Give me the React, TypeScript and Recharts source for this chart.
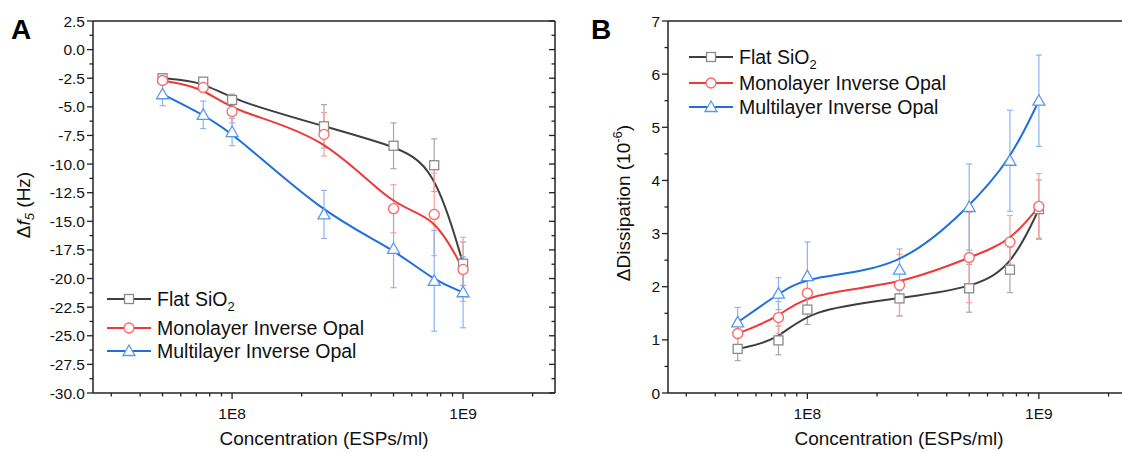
import React from "react";
import { ComposedChart, Line, XAxis, YAxis, ErrorBar, ReferenceLine } from "recharts";

// concentration (ESPs/ml), shared by both panels
const CONC = [5e7, 7.5e7, 1e8, 2.5e8, 5e8, 7.5e8, 1e9];

// panel A: frequency shift (Hz)
const FLAT_DF = [-2.5, -2.8, -4.4, -6.7, -8.4, -10.1, -18.7];
const FLAT_DF_ERR = [0.25, 0.3, 0.5, 1.9, 2.0, 2.3, 1.9];
const MONO_DF = [-2.7, -3.3, -5.4, -7.4, -13.9, -14.4, -19.2];
const MONO_DF_ERR = [0.3, 0.4, 1.0, 1.9, 2.1, 3.6, 2.8];
const MULTI_DF = [-3.9, -5.7, -7.2, -14.4, -17.4, -20.2, -21.2];
const MULTI_DF_ERR = [1.0, 1.2, 1.2, 2.1, 3.4, 4.4, 3.1];

// panel B: dissipation (1e-6)
const FLAT_DD = [0.83, 0.99, 1.57, 1.78, 1.97, 2.32, 3.46];
const FLAT_DD_ERR = [0.22, 0.27, 0.28, 0.33, 0.45, 0.43, 0.55];
const MONO_DD = [1.12, 1.42, 1.88, 2.03, 2.55, 2.84, 3.51];
const MONO_DD_ERR = [0.25, 0.3, 0.35, 0.58, 0.85, 0.5, 0.62];
const MULTI_DD = [1.33, 1.87, 2.2, 2.32, 3.5, 4.37, 5.5];
const MULTI_DD_ERR = [0.28, 0.3, 0.64, 0.39, 0.81, 0.95, 0.86];

const X_DOMAIN = [2.5e7, 2.5e9];
const X_TICKS = [3e7, 4e7, 5e7, 6e7, 7e7, 8e7, 9e7, 1e8, 2e8, 3e8, 4e8, 5e8, 6e8, 7e8, 8e8, 9e8, 1e9, 2e9];
const X_MAJOR = [1e8, 1e9];
const X_LABELS = ["1E8", "1E9"];

const A_Y_MAJOR = [2.5, 0, -2.5, -5, -7.5, -10, -12.5, -15, -17.5, -20, -22.5, -25, -27.5, -30];
const B_Y_MAJOR = [0, 1, 2, 3, 4, 5, 6, 7];

const FONT = "Arial, 'Liberation Sans', sans-serif";
const AXIS = "#222";

const GRAY = { line: "#3f3f3f", mark: "#8a8a8a", err: "#a8a8a8" };
const RED = { line: "#ef3838", mark: "#ff6464", err: "#ff9d9d" };
const BLUE = { line: "#1f6fdc", mark: "#5a98ee", err: "#8ab6f2" };

const withMinors = (major: number[]) => {
  const out: number[] = [];
  major.forEach((v, i) => {
    out.push(v);
    if (i < major.length - 1) out.push((v + major[i + 1]) / 2);
  });
  return out;
};

function Square({ cx, cy, color }: any) {
  return <rect x={cx - 4.5} y={cy - 4.5} width={9} height={9} fill="#fff" stroke={color} strokeWidth={1.3} />;
}
function Circle({ cx, cy, color }: any) {
  return <circle cx={cx} cy={cy} r={5} fill="#fff" stroke={color} strokeWidth={1.3} />;
}
function Triangle({ cx, cy, color }: any) {
  return (
    <polygon
      points={`${cx},${cy - 6} ${cx - 6},${cy + 4.5} ${cx + 6},${cy + 4.5}`}
      fill="#fff" stroke={color} strokeWidth={1.3}
    />
  );
}

const dotFn = (Shape: any, color: string) => (p: any) =>
  <Shape key={`d${p.index}`} cx={p.cx} cy={p.cy} color={color} />;

function leftTick(major: number[], fmt: (v: number) => string) {
  return (props: any) => {
    const { x, y, payload } = props;
    const isMajor = major.includes(payload.value);
    return (
      <g>
        <line x1={x - (isMajor ? 6 : 3.5)} x2={x} y1={y} y2={y} stroke={AXIS} strokeWidth={1.3} />
        {isMajor && (
          <text x={x - 8} y={y + 5.5} textAnchor="end" fontSize={15.5} fontFamily={FONT} fill="#111">
            {fmt(payload.value)}
          </text>
        )}
      </g>
    );
  };
}

function rightTick(major: number[]) {
  return (props: any) => {
    const { x, y, payload } = props;
    const isMajor = major.includes(payload.value);
    return <line x1={x - (isMajor ? 6 : 3.5)} x2={x} y1={y} y2={y} stroke={AXIS} strokeWidth={1.3} />;
  };
}

function bottomTick(props: any) {
  const { x, y, payload } = props;
  const idx = X_MAJOR.indexOf(payload.value);
  const isMajor = idx >= 0;
  return (
    <g>
      <line x1={x} x2={x} y1={y} y2={y + (isMajor ? 6 : 3.5)} stroke={AXIS} strokeWidth={1.3} />
      {isMajor && (
        <text x={x} y={y + 26} textAnchor="middle" fontSize={15.5} fontFamily={FONT} fill="#111">
          {X_LABELS[idx]}
        </text>
      )}
    </g>
  );
}

function buildRows(flat: number[], flatErr: number[], mono: number[], monoErr: number[], multi: number[], multiErr: number[]) {
  return CONC.map((c, i) => ({
    c,
    flat: flat[i], flatErr: flatErr[i],
    mono: mono[i], monoErr: monoErr[i],
    multi: multi[i], multiErr: multiErr[i],
  }));
}

function Panel({ rows, yDomain, yMajor, fmt, left, right }: any) {
  const ticks = withMinors(yMajor);
  return (
    <ComposedChart width={570} height={452} data={rows} margin={{ top: 21, right, bottom: 29, left }}>
      <XAxis
        dataKey="c" type="number" scale="log" domain={X_DOMAIN} ticks={X_TICKS}
        allowDataOverflow interval={0} height={30} tickSize={0} tickMargin={0}
        tickLine={false} tick={bottomTick} axisLine={{ stroke: AXIS, strokeWidth: 1.5 }}
      />
      <YAxis
        type="number" domain={yDomain} ticks={ticks} allowDataOverflow interval={0}
        width={50} tickSize={0} tickMargin={0} tickLine={false}
        tick={leftTick(yMajor, fmt)} axisLine={{ stroke: AXIS, strokeWidth: 1.5 }}
      />
      <YAxis
        yAxisId="r" orientation="right" type="number" domain={yDomain} ticks={ticks}
        allowDataOverflow interval={0} width={1} tickSize={0} tickMargin={0} tickLine={false}
        tick={rightTick(yMajor)} axisLine={{ stroke: AXIS, strokeWidth: 1.5 }}
      />
      <ReferenceLine y={yDomain[1]} stroke={AXIS} strokeWidth={1.5} />

      <Line dataKey="flat" type="basis" stroke={GRAY.line} strokeWidth={2}
        dot={dotFn(Square, GRAY.mark)} activeDot={false} isAnimationActive={false}>
        <ErrorBar dataKey="flatErr" direction="y" width={3} stroke={GRAY.err} strokeWidth={1.2} />
      </Line>
      <Line dataKey="mono" type="basis" stroke={RED.line} strokeWidth={2}
        dot={dotFn(Circle, RED.mark)} activeDot={false} isAnimationActive={false}>
        <ErrorBar dataKey="monoErr" direction="y" width={3} stroke={RED.err} strokeWidth={1.2} />
      </Line>
      <Line dataKey="multi" type="basis" stroke={BLUE.line} strokeWidth={2}
        dot={dotFn(Triangle, BLUE.mark)} activeDot={false} isAnimationActive={false}>
        <ErrorBar dataKey="multiErr" direction="y" width={3} stroke={BLUE.err} strokeWidth={1.2} />
      </Line>
    </ComposedChart>
  );
}

const LEGEND = [
  { label: "Flat SiO", sub: "2", c: GRAY, Shape: Square },
  { label: "Monolayer Inverse Opal", sub: "", c: RED, Shape: Circle },
  { label: "Multilayer Inverse Opal", sub: "", c: BLUE, Shape: Triangle },
];

function LegendBox({ x, ys }: { x: number; ys: number[] }) {
  return (
    <g>
      {LEGEND.map((l, i) => (
        <g key={l.label}>
          <line x1={x} x2={x + 44} y1={ys[i]} y2={ys[i]} stroke={l.c.line} strokeWidth={2} />
          <l.Shape cx={x + 22} cy={ys[i]} color={l.c.mark} />
          <text x={x + 50} y={ys[i] + 7} fontSize={19.5} fontFamily={FONT} fill="#111">
            {l.label}
            {l.sub && <tspan fontSize={13} dy={5}>{l.sub}</tspan>}
          </text>
        </g>
      ))}
    </g>
  );
}

export default function App() {
  const rowsA = buildRows(FLAT_DF, FLAT_DF_ERR, MONO_DF, MONO_DF_ERR, MULTI_DF, MULTI_DF_ERR);
  const rowsB = buildRows(FLAT_DD, FLAT_DD_ERR, MONO_DD, MONO_DD_ERR, MULTI_DD, MULTI_DD_ERR);
  return (
    <div style={{ position: "absolute", left: 0, top: 0, width: 1122, height: 452, overflow: "hidden", background: "#fff" }}>
      <div style={{ position: "absolute", left: 0, top: 0 }}>
        <Panel rows={rowsA} yDomain={[-30, 2.5]} yMajor={A_Y_MAJOR} fmt={(v: number) => v.toFixed(1)} left={43} right={14} />
      </div>
      <div style={{ position: "absolute", left: 570, top: 0 }}>
        <Panel rows={rowsB} yDomain={[0, 7]} yMajor={B_Y_MAJOR} fmt={(v: number) => String(v)} left={48} right={8} />
      </div>
      <svg width={1122} height={452} style={{ position: "absolute", left: 0, top: 0, pointerEvents: "none" }}>
        <text x={11} y={39} fontSize={28} fontWeight={700} fontFamily={FONT} fill="#000">A</text>
        <text x={591} y={39} fontSize={28} fontWeight={700} fontFamily={FONT} fill="#000">B</text>

        <text x={324} y={445} textAnchor="middle" fontSize={19} fontFamily={FONT} fill="#111">Concentration (ESPs/ml)</text>
        <text x={899} y={445} textAnchor="middle" fontSize={19} fontFamily={FONT} fill="#111">Concentration (ESPs/ml)</text>

        <text transform="translate(30,205) rotate(-90)" textAnchor="middle" fontSize={19} fontFamily={FONT} fill="#111">
          Δ<tspan fontStyle="italic">f</tspan>
          <tspan fontStyle="italic" fontSize={13} dy={4}>5</tspan>
          <tspan dy={-4}> (Hz)</tspan>
        </text>
        <text transform="translate(630,203) rotate(-90)" textAnchor="middle" fontSize={19} fontFamily={FONT} fill="#111">
          ΔDissipation (10<tspan fontSize={13} dy={-8}>-6</tspan><tspan dy={8}>)</tspan>
        </text>

        <LegendBox x={107} ys={[299, 328, 351]} />
        <LegendBox x={689} ys={[57, 83, 107]} />
      </svg>
    </div>
  );
}
